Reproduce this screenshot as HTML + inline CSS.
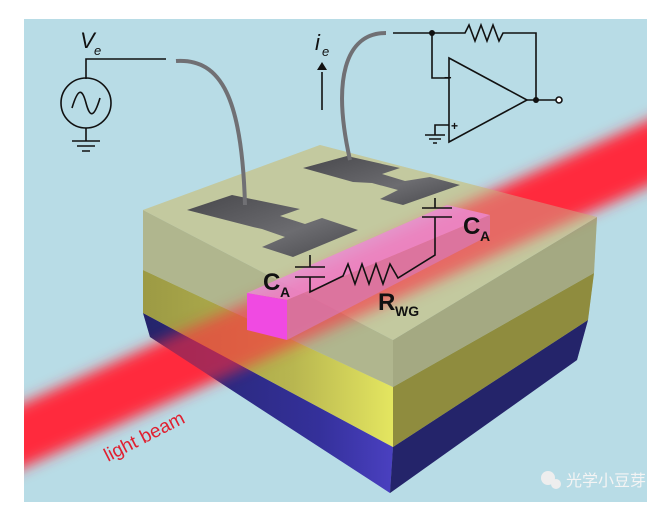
<!DOCTYPE html>
<html><head><style>
html,body{margin:0;padding:0;background:#fff}
svg{display:block}
text{font-family:"Liberation Sans",sans-serif}
</style></head><body>
<svg width="668" height="509" viewBox="0 0 668 509" xmlns="http://www.w3.org/2000/svg">
<defs>
<filter id="bl" x="-20%" y="-50%" width="140%" height="200%"><feGaussianBlur stdDeviation="7"/></filter>
<clipPath id="cp"><rect x="24" y="19" width="623" height="483"/></clipPath>
<linearGradient id="pad" x1="0" y1="0" x2="1" y2="1"><stop offset="0" stop-color="#48484c"/><stop offset="0.6" stop-color="#6c6c70"/><stop offset="1" stop-color="#48484c"/></linearGradient>
<linearGradient id="yl" x1="0" y1="0" x2="1" y2="0"><stop offset="0" stop-color="#9c9a44"/><stop offset="0.6" stop-color="#b8b650"/><stop offset="1" stop-color="#e4e660"/></linearGradient>
<linearGradient id="bb" x1="0" y1="0" x2="1" y2="0"><stop offset="0" stop-color="#24246a"/><stop offset="0.7" stop-color="#34309a"/><stop offset="1" stop-color="#4a40c0"/></linearGradient>
<g id="block">
<polygon points="143,313 393,447 390,493 150,337" fill="url(#bb)"/>
<polygon points="393,447 588,320 577,360 390,493" fill="#24246a"/>
<polygon points="143,270 393,387 393,447 143,313" fill="url(#yl)"/>
<polygon points="393,387 594,273 588,320 393,447" fill="#8f8c3e"/>
<polygon points="143,210 393,340 393,387 143,270" fill="#b0b68e"/>
<polygon points="393,340 597,217 594,273 393,387" fill="#a4a982"/>
<polygon points="143,210 320,145 597,217 393,340" fill="#c3c99f"/>
</g>
</defs>
<rect x="24" y="19" width="623" height="483" fill="#b8dce6"/>
<use href="#block"/>
<g clip-path="url(#cp)"><g filter="url(#bl)">
<polygon points="0,414 680,106 680,172 0,478" fill="#ff2c3c"/>
</g></g>
<g opacity="0.4"><use href="#block"/></g>
<polygon points="247,293 447,205 490,215 287,300" fill="#ec8ad6" opacity="0.8"/>
<polygon points="287,300 490,215 490,235 287,340" fill="#d67cc4" opacity="0.6"/>
<polygon points="247,293 287,300 287,340 247,330" fill="#f04ae2"/>
<polygon points="187,210 232,195 300,209 280,216 305,224 322,218 358,230 293,257 262,247 285,237 262,229 253,227" fill="url(#pad)"/>
<polygon points="303,168 347,156 400,168 382,174 405,181 430,177 460,185 403,205 380,199 398,190 372,183 353,182" fill="url(#pad)"/>
<path d="M176,61 C222,58 242,100 245,205" stroke="#707074" stroke-width="4" fill="none"/>
<path d="M386,33 C345,33 332,80 350,160" stroke="#707074" stroke-width="4" fill="none"/>
<g stroke="#111" stroke-width="1.6" fill="none">
<path d="M166,59 H86 V79"/>
<circle cx="86" cy="103" r="25"/>
<path d="M72,108 C78,88 82,88 86,103 C90,118 94,118 100,98"/>
<path d="M86,128 V141 M72,141 H100 M77,146 H95 M82,151 H90"/>
<path d="M393,33 H465 L469,25 L475,41 L481,25 L487,41 L493,25 L499,41 L503,33 H536 V100 M527,100 H556"/>
<path d="M432,33 V78 H449"/>
<polygon points="449,58 449,142 527,100"/>
<path d="M449,125 H435 V135 M425,135 H445 M429,139 H441 M433,143 H437"/>
<circle cx="559" cy="100" r="3" fill="#fff"/>
<path d="M322,110 V72"/>
<path d="M310,255 V267 M295,267 H325 M295,277 H325 M310,277 V292 L343,276 L348,264 L355,284 L362,264 L369,284 L376,264 L383,284 L390,264 L398,278 L435,255 V217 M422,217 H452 M422,208 H452 M435,208 V198"/>
</g>
<polygon points="317,70 322,62 327,70" fill="#111"/>
<circle cx="432" cy="33" r="3" fill="#111"/>
<circle cx="536" cy="100" r="3" fill="#111"/>
<text x="444" y="82" font-size="13" font-weight="bold" fill="#111">−</text>
<text x="451" y="130" font-size="12" font-weight="bold" fill="#111">+</text>
<text x="80" y="48" font-size="22" font-style="italic" fill="#111">V</text>
<text x="94" y="55" font-size="13" font-style="italic" fill="#111">e</text>
<text x="315" y="50" font-size="22" font-style="italic" fill="#111">i</text>
<text x="322" y="56" font-size="13" font-style="italic" fill="#111">e</text>
<text x="263" y="290" font-size="24" font-weight="bold" fill="#111">C</text>
<text x="280" y="297" font-size="14" font-weight="bold" fill="#111">A</text>
<text x="463" y="234" font-size="24" font-weight="bold" fill="#111">C</text>
<text x="480" y="241" font-size="14" font-weight="bold" fill="#111">A</text>
<text x="378" y="310" font-size="24" font-weight="bold" fill="#111">R</text>
<text x="395" y="316" font-size="14" font-weight="bold" fill="#111">WG</text>
<text x="0" y="0" font-size="19" fill="#e02030" transform="translate(108,462) rotate(-27)">light beam</text>
<circle cx="548" cy="478" r="7" fill="#eee"/><circle cx="556" cy="484" r="5" fill="#eee"/>
<text x="566" y="486" font-size="16" fill="#f4f4f4" font-family="Liberation Sans, Noto Sans CJK SC, sans-serif">光学小豆芽</text>
</svg>
</body></html>
